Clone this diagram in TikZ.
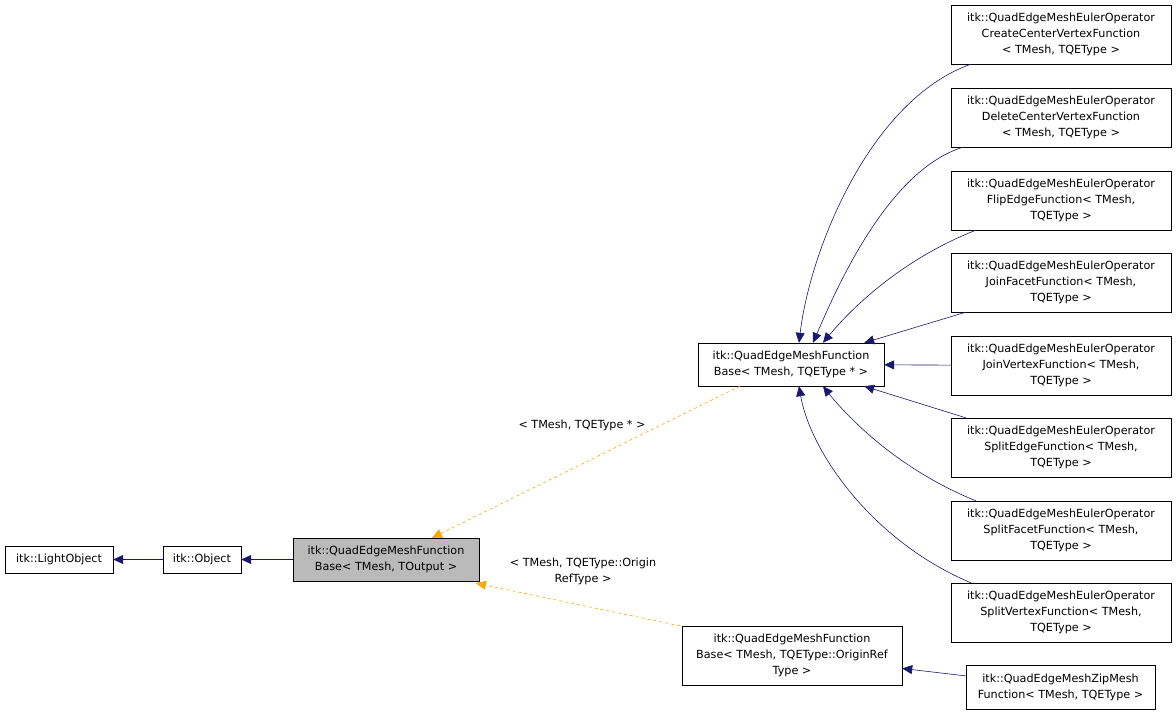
\documentclass[tikz,border=0pt]{standalone}
\usepackage{fontspec}
\setmainfont{DejaVu Sans}
\usetikzlibrary{arrows.meta}
\definecolor{tplorange}{RGB}{255,165,0}
\definecolor{inhnavy}{RGB}{25,25,112}
\begin{document}
\begin{tikzpicture}[x=1pt,y=-1pt,
  every node/.style={font=\fontsize{11.2}{16}\selectfont},
  cls/.style={draw=black, rectangle, align=center, inner sep=2pt},
  leaf/.style={cls, minimum width=220pt, minimum height=59pt},
  inh/.style={-{Triangle[length=10pt, width=9pt]}, draw=inhnavy, semithick},
  tpl/.style={-{Triangle[length=10pt, width=9pt]}, draw=tplorange, dashed, semithick}]
\useasboundingbox (0,0) rectangle (1176,715);

\node[cls, minimum width=108pt, minimum height=27pt] (light) at (59,559.5)
  {itk::LightObject};
\node[cls, minimum width=78pt, minimum height=27pt] (obj) at (202,559.5)
  {itk::Object};
\node[cls, fill=black!27, minimum width=186pt, minimum height=43pt] (fb) at (386,559.5)
  {itk::QuadEdgeMeshFunction\\Base< TMesh, TOutput >};
\node[cls, minimum width=186pt, minimum height=43pt] (fbq) at (791,364.5)
  {itk::QuadEdgeMeshFunction\\Base< TMesh, TQEType * >};
\node[cls, minimum width=220pt, minimum height=59pt] (fbo) at (792,655.5)
  {itk::QuadEdgeMeshFunction\\Base< TMesh, TQEType::OriginRef\\Type >};

\node[leaf] (ccv) at (1061,34.5)
  {itk::QuadEdgeMeshEulerOperator\\CreateCenterVertexFunction\\< TMesh, TQEType >};
\node[leaf] (dcv) at (1061,117.5)
  {itk::QuadEdgeMeshEulerOperator\\DeleteCenterVertexFunction\\< TMesh, TQEType >};
\node[leaf] (fe) at (1061,200.5)
  {itk::QuadEdgeMeshEulerOperator\\FlipEdgeFunction< TMesh,\\TQEType >};
\node[leaf] (jf) at (1061,282.5)
  {itk::QuadEdgeMeshEulerOperator\\JoinFacetFunction< TMesh,\\TQEType >};
\node[leaf] (jv) at (1061,365.5)
  {itk::QuadEdgeMeshEulerOperator\\JoinVertexFunction< TMesh,\\TQEType >};
\node[leaf] (se) at (1061,447.5)
  {itk::QuadEdgeMeshEulerOperator\\SplitEdgeFunction< TMesh,\\TQEType >};
\node[leaf] (sf) at (1061,530.5)
  {itk::QuadEdgeMeshEulerOperator\\SplitFacetFunction< TMesh,\\TQEType >};
\node[leaf] (sv) at (1061,612.5)
  {itk::QuadEdgeMeshEulerOperator\\SplitVertexFunction< TMesh,\\TQEType >};
\node[cls, minimum width=189pt, minimum height=44pt] (zip) at (1060.5,687)
  {itk::QuadEdgeMeshZipMesh\\Function< TMesh, TQEType >};

\draw[inh] (obj) -- (light);
\draw[inh] (fb) -- (obj);
\path (fbq.south west) ++(42,0) coordinate (q1);
\draw[tpl] (q1) -- ([xshift=46pt]fb.north);
\node at (582,425) {< TMesh, TQEType * >};
\coordinate (o1) at ([xshift=-2pt]fbo.north west);
\draw[tpl] (o1) -- ([xshift=90pt,yshift=-2pt]fb.south);
\node[align=center] at (583,571) {< TMesh, TQEType::Origin\\RefType >};

\path (ccv.south west) ++(20,0) coordinate (c1);
\draw[inh] (c1) .. controls (870,100) and (810,250) .. ([xshift=8pt]fbq.north);
\path (dcv.south west) ++(12,0) coordinate (c2);
\draw[inh] (c2) .. controls (890,170) and (840,280) .. ([xshift=22pt]fbq.north);
\path (fe.south west) ++(25,0) coordinate (c3);
\draw[inh] (c3) .. controls (900,260) and (850,310) .. ([xshift=32pt]fbq.north);
\path (jf.south west) ++(15,0) coordinate (c4);
\draw[inh] (c4) -- ([xshift=-20pt]fbq.north east);
\draw[inh] (jv) -- (fbq);
\path (se.north west) ++(15,0) coordinate (c6);
\draw[inh] (c6) -- ([xshift=-20pt]fbq.south east);
\path (sf.north west) ++(25,0) coordinate (c7);
\draw[inh] (c7) .. controls (900,470) and (850,420) .. ([xshift=32pt]fbq.south);
\path (sv.north west) ++(20,0) coordinate (c8);
\draw[inh] (c8) .. controls (870,540) and (810,450) .. ([xshift=8pt]fbq.south);
\draw[inh] (zip) -- (fbo);
\end{tikzpicture}
\end{document}
